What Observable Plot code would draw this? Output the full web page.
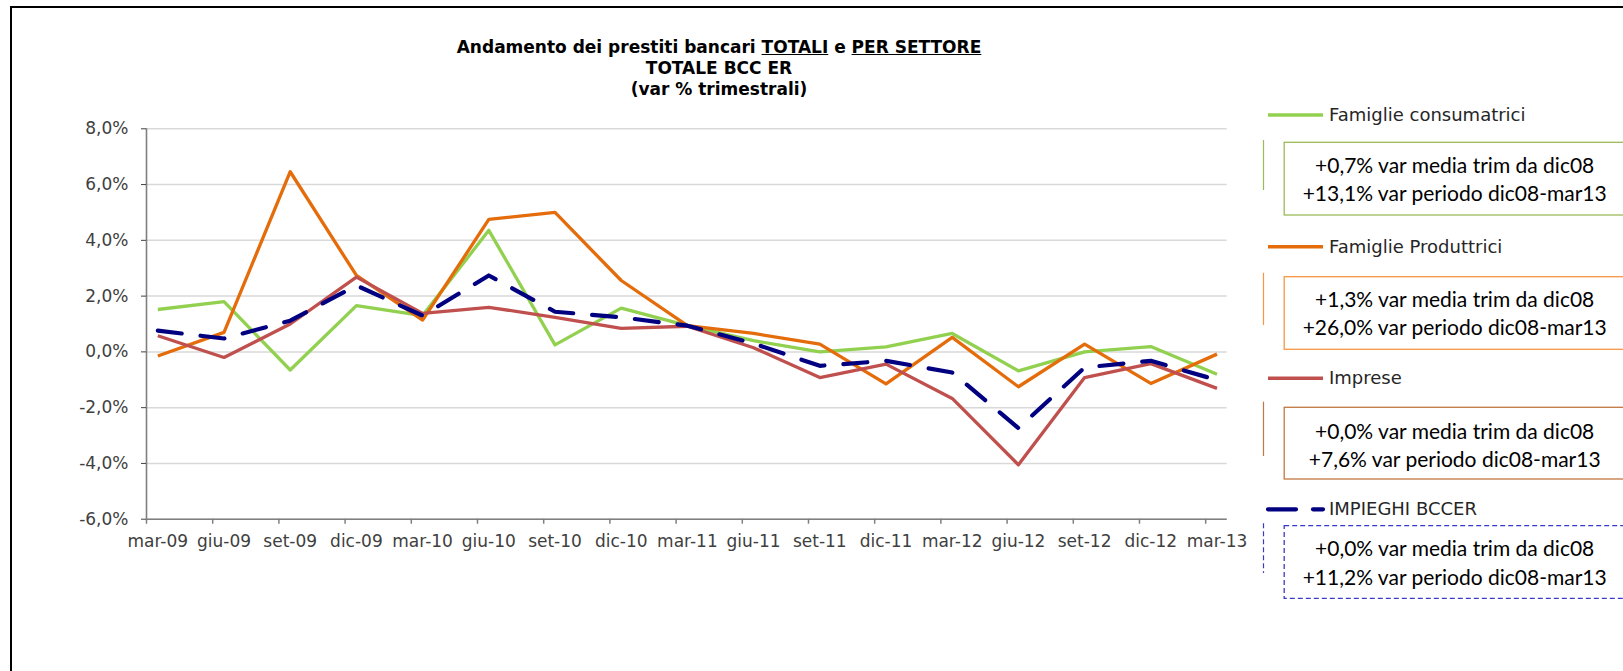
<!DOCTYPE html>
<html>
<head>
<meta charset="utf-8">
<script src="https://cdn.jsdelivr.net/npm/d3@7"></script>
<script src="https://cdn.jsdelivr.net/npm/@observablehq/plot@0.6"></script>
<style>
  html, body { margin: 0; padding: 0; background: #fff; overflow: hidden; }
  #wrap { position: relative; width: 1623px; height: 671px; overflow: hidden; font-family: "DejaVu Sans", Verdana, sans-serif; }
  #frame { position: absolute; left: 10px; top: 6px; width: 1700px; height: 800px; border-top: 2px solid #000; border-left: 2px solid #000; box-sizing: border-box; }
  #chart { position: absolute; left: 0; top: 0; }
  .tl { position: absolute; left: 0; width: 1438px; text-align: center; font-weight: bold; font-size: 17px; line-height: 20px; color: #000; white-space: nowrap; }
  .lg-label { position: absolute; left: 1329px; font-size: 18px; line-height: 22px; color: #262626; white-space: nowrap; }
  .lg-line { position: absolute; left: 0; width: 342px; text-align: center; font-family: Lato, "Open Sans", sans-serif; font-size: 21px; line-height: 26px; color: #000; white-space: nowrap; }
  svg.ov { position: absolute; left: 0; top: 0; overflow: visible; }
</style>
</head>
<body>
<div id="wrap">
  <div id="frame"></div>
  <div id="chart"></div>
  <div class="tl" style="top:36.6px">Andamento dei prestiti bancari <u>TOTALI</u> e <u>PER SETTORE</u></div>
  <div class="tl" style="top:58px">TOTALE BCC ER</div>
  <div class="tl" style="top:79px">(var % trimestrali)</div>
</div>
<script>
// ---- data ----
const months = ["mar-09","giu-09","set-09","dic-09","mar-10","giu-10","set-10","dic-10","mar-11","giu-11","set-11","dic-11","mar-12","giu-12","set-12","dic-12","mar-13"];
const famiglieConsumatrici = [1.52, 1.80, -0.65, 1.66, 1.30, 4.36, 0.25, 1.57, 0.94, 0.40, 0.00, 0.18, 0.66, -0.68, 0.00, 0.19, -0.80];
const famiglieProduttrici = [-0.15, 0.70, 6.46, 2.74, 1.14, 4.75, 5.00, 2.56, 0.94, 0.66, 0.28, -1.15, 0.52, -1.25, 0.28, -1.13, -0.08];
const imprese = [0.58, -0.20, 1.00, 2.68, 1.38, 1.60, 1.24, 0.84, 0.92, 0.15, -0.92, -0.44, -1.67, -4.05, -0.92, -0.42, -1.31];
const impieghi = [0.76, 0.48, 1.12, 2.38, 1.30, 2.74, 1.44, 1.24, 0.94, 0.30, -0.50, -0.32, -0.74, -2.73, -0.56, -0.32, -1.01];
const yTicks = [-6, -4, -2, 0, 2, 4, 6, 8];

const seriesNames = ["Famiglie consumatrici", "Famiglie Produttrici", "Imprese", "IMPIEGHI BCCER"];
const seriesValues = [famiglieConsumatrici, famiglieProduttrici, imprese, impieghi];
const seriesColors = ["#92d050", "#e46c0a", "#c0504d", "#000080"];
const boxColors = ["#9bbb59", "#f79646", "#c07840", "#3a3ac8"];
const mediaTrim = ["+0,7%", "+1,3%", "+0,0%", "+0,0%"];
const varPeriodo = ["+13,1%", "+26,0%", "+7,6%", "+11,2%"];

// ---- chart ----
const rows = seriesNames.flatMap((s, k) => seriesValues[k].map((v, i) => ({series: s, i, v})));
const xDomain = [-0.171, 16.154];
const xTickPos = months.map((m, i) => i - 0.171);
const fmtY = d => d.toFixed(1).replace(".", ",") + "%";

const lineMarks = seriesNames.map((s, k) =>
  Plot.line(rows.filter(r => r.series === s), {
    x: "i", y: "v",
    stroke: seriesColors[k],
    strokeWidth: k === 3 ? 4.2 : 3.3,
    strokeDasharray: k === 3 ? "24,19" : null,
    strokeLinecap: k === 3 ? "round" : "butt",
    strokeLinejoin: "round"
  })
);

const chart = Plot.plot({
  width: 1623,
  height: 671,
  marginLeft: 146,
  marginRight: 396.3,
  marginTop: 128.3,
  marginBottom: 152.3,
  style: {fontFamily: "'DejaVu Sans', Verdana, sans-serif", fontSize: "17px", background: "transparent", overflow: "visible"},
  x: {type: "linear", domain: xDomain},
  y: {type: "linear", domain: [-6, 8]},
  marks: [
    Plot.gridY(yTicks, {stroke: "#d9d9d9", strokeOpacity: 1, strokeWidth: 1.5}),
    Plot.ruleX([xDomain[0]], {stroke: "#7f7f7f", strokeWidth: 1.6}),
    Plot.ruleY([-6], {stroke: "#7f7f7f", strokeWidth: 1.6}),
    Plot.ruleX(xTickPos, {y1: -6, y2: -6.18, stroke: "#7f7f7f", strokeWidth: 1.5}),
    Plot.axisY(yTicks, {tickSize: 5, tickPadding: 13, tickFormat: fmtY, fontSize: 17, color: "#404040", label: null}),
    Plot.axisX(d3.range(months.length), {tickSize: 0, tickPadding: 16, tickFormat: i => months[i], fontSize: 17, color: "#404040", label: null}),
    ...lineMarks
  ]
});
document.getElementById("chart").appendChild(chart);

// ---- legend (right side) ----
const layout = [
  {sw: 115,   c1: 140,   c2: 190, bt: 142.3, bb: 215,   t1: 165,   t2: 193.3},
  {sw: 246.7, c1: 272.7, c2: 325, bt: 276.7, bb: 349.3, t1: 299.3, t2: 326.7},
  {sw: 378.3, c1: 401.7, c2: 456, bt: 407.3, bb: 479,   t1: 431,   t2: 459},
  {sw: 509.3, c1: 523.3, c2: 573, bt: 525.7, bb: 598.3, t1: 548.3, t2: 576.7}
];
const wrap = document.getElementById("wrap");
const ns = "http://www.w3.org/2000/svg";
const ov = document.createElementNS(ns, "svg");
ov.setAttribute("class", "ov");
ov.setAttribute("width", 1623);
ov.setAttribute("height", 671);
wrap.appendChild(ov);

function svgEl(tag, attrs) {
  const e = document.createElementNS(ns, tag);
  for (const [a, v] of Object.entries(attrs)) if (v != null) e.setAttribute(a, v);
  ov.appendChild(e);
  return e;
}

seriesNames.forEach((name, k) => {
  const L = layout[k];
  const dashed = k === 3;
  // swatch
  svgEl("line", {x1: 1268, x2: 1323, y1: L.sw, y2: L.sw, stroke: seriesColors[k],
    "stroke-width": dashed ? 4.2 : 3.5,
    "stroke-dasharray": dashed ? "28,17" : null,
    "stroke-linecap": dashed ? "round" : null});
  // connector
  svgEl("line", {x1: 1263.5, x2: 1263.5, y1: L.c1, y2: L.c2, stroke: boxColors[k], "stroke-width": 1.2,
    "stroke-dasharray": dashed ? "5,3" : null});
  // box
  svgEl("rect", {x: 1284.2, y: L.bt, width: 341, height: L.bb - L.bt, fill: "#fff",
    stroke: boxColors[k], "stroke-width": 1.3, "stroke-dasharray": dashed ? "5,3" : null});
  // label
  const lab = document.createElement("div");
  lab.className = "lg-label";
  lab.style.top = (L.sw - 11) + "px";
  lab.textContent = name;
  wrap.appendChild(lab);
  const lines = [mediaTrim[k] + " var media trim da dic08", varPeriodo[k] + " var periodo dic08-mar13"];
  [L.t1, L.t2].forEach((ty, j) => {
    const t = document.createElement("div");
    t.className = "lg-line";
    t.style.left = "1283.7px";
    t.style.top = (ty - 13) + "px";
    t.textContent = lines[j];
    wrap.appendChild(t);
  });
});
</script>
</body>
</html>
